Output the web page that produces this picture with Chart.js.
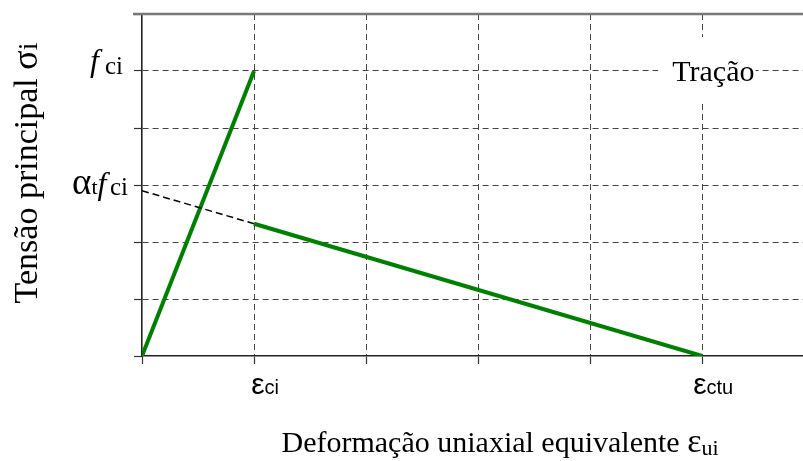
<!DOCTYPE html>
<html>
<head>
<meta charset="utf-8">
<script src="https://cdn.jsdelivr.net/npm/chart.js@4.4.0/dist/chart.umd.min.js"></script>
<style>
  html, body { margin: 0; padding: 0; background: #fff; }
  #wrap { width: 803px; height: 461px; }
</style>
</head>
<body>
<div id="wrap"><canvas id="myChart" width="803" height="461"></canvas></div>
<script>
// grid / tick positions on both axes (arbitrary units)
const xTicks = [0, 1, 2, 3, 4, 5];
const yTicks = [0, 1, 2, 3, 4, 5, 6];
const xMax = 5.9;
const yMax = 6;

// linear branch up to f_ci at eps_ci
const riseX = [0, 1];
const riseY = [0, 5];
// softening branch from eps_ci down to eps_ctu
const softX = [1, 5];
const softY = [2.32, 0];
// dashed extension back to alpha_t f_ci
const projX = [0, 1];
const projY = [2.9, 2.32];

// axis labels
const fciValue = 5;
const alphaValue = 2.9;
const epsValues = [1, 5];
const epsSubs = ["ci", "ctu"];
const noteText = "Tração";
const noteX = 5.1;
const noteY = 5;

const serif = '"Liberation Serif", "Times New Roman", serif';
const sans = '"Liberation Sans", Arial, sans-serif';

function toPts(xs, ys) {
    return xs.map((x, i) => ({ x: x, y: ys[i] }));
}

// draws a run of text pieces [text, font, dy] one after another
function drawRuns(ctx, parts, x, y, align) {
    let w = 0;
    parts.forEach(p => { ctx.font = p[1]; w += ctx.measureText(p[0]).width; });
    let cx = x;
    if (align == "right") cx = x - w;
    if (align == "center") cx = x - w / 2;
    parts.forEach(p => {
        ctx.font = p[1];
        ctx.fillText(p[0], cx, y + (p[2] || 0));
        cx += ctx.measureText(p[0]).width;
    });
    return w;
}

const labelPlugin = {
    id: "labels",
    afterDraw(chart) {
        const ctx = chart.ctx;
        const area = chart.chartArea;
        const xs = chart.scales.x;
        const ys = chart.scales.y;
        ctx.save();
        ctx.textBaseline = "alphabetic";
        ctx.fillStyle = "#000";

        // top border line
        ctx.strokeStyle = "#777";
        ctx.lineWidth = 2.5;
        ctx.beginPath();
        ctx.moveTo(area.left - 9, area.top);
        ctx.lineTo(area.right, area.top);
        ctx.stroke();

        // stress axis labels
        let yf = ys.getPixelForValue(fciValue);
        drawRuns(ctx, [
            ["f", "italic 32px " + serif, 0],
            [" ", "24px " + serif, 0],
            ["ci", "25px " + serif, 3]
        ], area.left - 19, yf, "right");

        let ya = ys.getPixelForValue(alphaValue);
        drawRuns(ctx, [
            ["α", "37px " + serif, 0],
            ["t", "22px " + serif, 0],
            ["f", "italic 32px " + serif, 0],
            [" ", "14px " + serif, 0],
            ["ci", "25px " + serif, 1]
        ], area.left - 14, ya + 3, "right");

        // strain axis labels
        epsValues.forEach((v, i) => {
            let px = xs.getPixelForValue(v);
            drawRuns(ctx, [
                ["ε", "30px " + sans, 0],
                [epsSubs[i], "20px " + sans, 0]
            ], px + 11, area.bottom + 38, "center");
        });

        // region note, sitting on a white patch over the grid
        let nx = xs.getPixelForValue(noteX);
        let ny = ys.getPixelForValue(noteY);
        ctx.font = "30px " + serif;
        let nw = ctx.measureText(noteText).width;
        ctx.fillStyle = "#fff";
        ctx.fillRect(nx - nw / 2 - 14, ny - 34, nw + 15, 66);
        ctx.fillStyle = "#000";
        ctx.textAlign = "center";
        ctx.fillText(noteText, nx, ny + 10);
        ctx.textAlign = "left";

        // axis titles
        drawRuns(ctx, [
            ["Deformação uniaxial equivalente ", "30px " + serif, 0],
            ["ε", "34px " + serif, 0],
            ["ui", "22px " + serif, 3]
        ], 500, 452, "center");

        ctx.translate(37, 173);
        ctx.rotate(-Math.PI / 2);
        drawRuns(ctx, [
            ["Tensão principal ", "34px " + serif, 0],
            ["σ", "36px " + serif, 0],
            ["i", "28px " + serif, 0]
        ], 0, 0, "center");

        ctx.restore();
    }
};

function gridColor(c) {
    if (!c.tick) return "#444";
    const v = c.tick.value;
    if (v === 0 || v === yMax) return "rgba(0,0,0,0)";
    return "#444";
}

var chart = new Chart("myChart", {
    type: "line",
    data: {
        datasets: [
            {
                data: toPts(projX, projY),
                borderColor: "#000",
                borderWidth: 1.5,
                borderDash: [7, 4],
                pointRadius: 0,
                fill: false
            },
            {
                data: toPts(riseX, riseY),
                borderColor: "#008000",
                borderWidth: 4,
                pointRadius: 0,
                fill: false
            },
            {
                data: toPts(softX, softY),
                borderColor: "#008000",
                borderWidth: 4,
                pointRadius: 0,
                fill: false
            }
        ]
    },
    options: {
        responsive: false,
        animation: false,
        layout: { padding: { top: 14, left: 0, right: 0, bottom: 0 } },
        plugins: {
            legend: { display: false },
            tooltip: { enabled: false }
        },
        scales: {
            x: {
                type: "linear",
                min: 0,
                max: xMax,
                afterBuildTicks: s => { s.ticks = xTicks.map(v => ({ value: v })); },
                afterFit: s => { s.height = 105; },
                ticks: { display: false },
                grid: { color: gridColor, lineWidth: 1, tickLength: 8, tickColor: "#333", tickWidth: 1.2 },
                border: { color: "#222", width: 1.6, dash: [6, 4] }
            },
            y: {
                type: "linear",
                min: 0,
                max: yMax,
                afterBuildTicks: s => { s.ticks = yTicks.map(v => ({ value: v })); },
                afterFit: s => { s.width = 142; },
                ticks: { display: false },
                grid: { color: gridColor, lineWidth: 1, tickLength: 8, tickColor: "#333", tickWidth: 1.2 },
                border: { color: "#222", width: 1.6, dash: [6, 4] }
            }
        }
    },
    plugins: [labelPlugin]
});
</script>
</body>
</html>
